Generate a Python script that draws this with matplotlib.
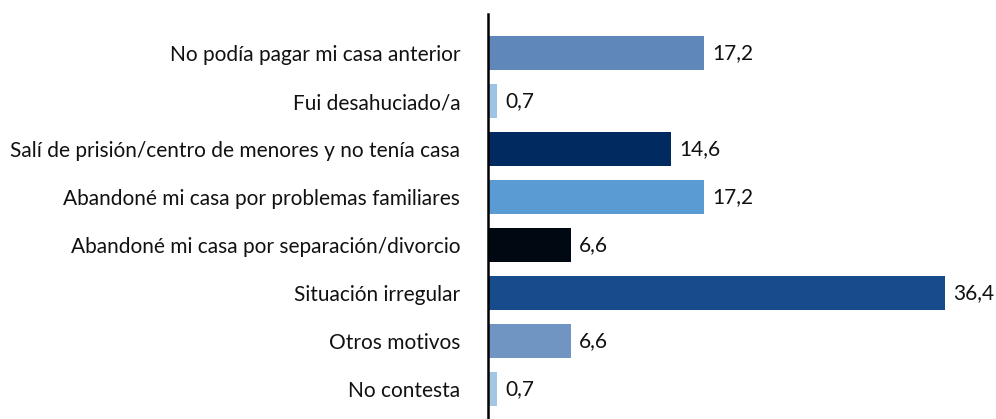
import matplotlib
matplotlib.use("Agg")
import matplotlib.pyplot as plt

categories = [
    "No podía pagar mi casa anterior",
    "Fui desahuciado/a",
    "Salí de prisión/centro de menores y no tenía casa",
    "Abandoné mi casa por problemas familiares",
    "Abandoné mi casa por separación/divorcio",
    "Situación irregular",
    "Otros motivos",
    "No contesta",
]
values = [17.2, 0.7, 14.6, 17.2, 6.6, 36.4, 6.6, 0.7]
labels = ["17,2", "0,7", "14,6", "17,2", "6,6", "36,4", "6,6", "0,7"]
colors = ["#5F87BA", "#9DC3E6", "#002A60", "#5B9BD3", "#000812",
          "#164C8C", "#7095C2", "#A3C6E4"]

plt.rcParams['font.family'] = ['Lato', 'DejaVu Sans']

fig = plt.figure(figsize=(9.96, 4.19), dpi=100)
ax = fig.add_axes([488/996, 0.0, 1 - 488/996, 1 - 14/419])

y = list(range(len(categories)))
ax.barh(y, values, height=0.72, color=colors)
for yi, v, lab in zip(y, values, labels):
    ax.text(v + 0.65, yi, lab, va='center', ha='left', fontsize=15, color='#111111')

ax.set_xlim(0, 40.5)
ax.set_ylim(7.625, -0.8125)
ax.set_yticks(y)
ax.set_yticklabels(categories, fontsize=15, color='#111111')
ax.tick_params(axis='y', length=0, pad=20)
ax.set_xticks([])
for s in ['top', 'right', 'bottom']:
    ax.spines[s].set_visible(False)
ax.spines['left'].set_linewidth(1.8)
ax.spines['left'].set_color('#000000')

fig.savefig("out.png", dpi=100)
